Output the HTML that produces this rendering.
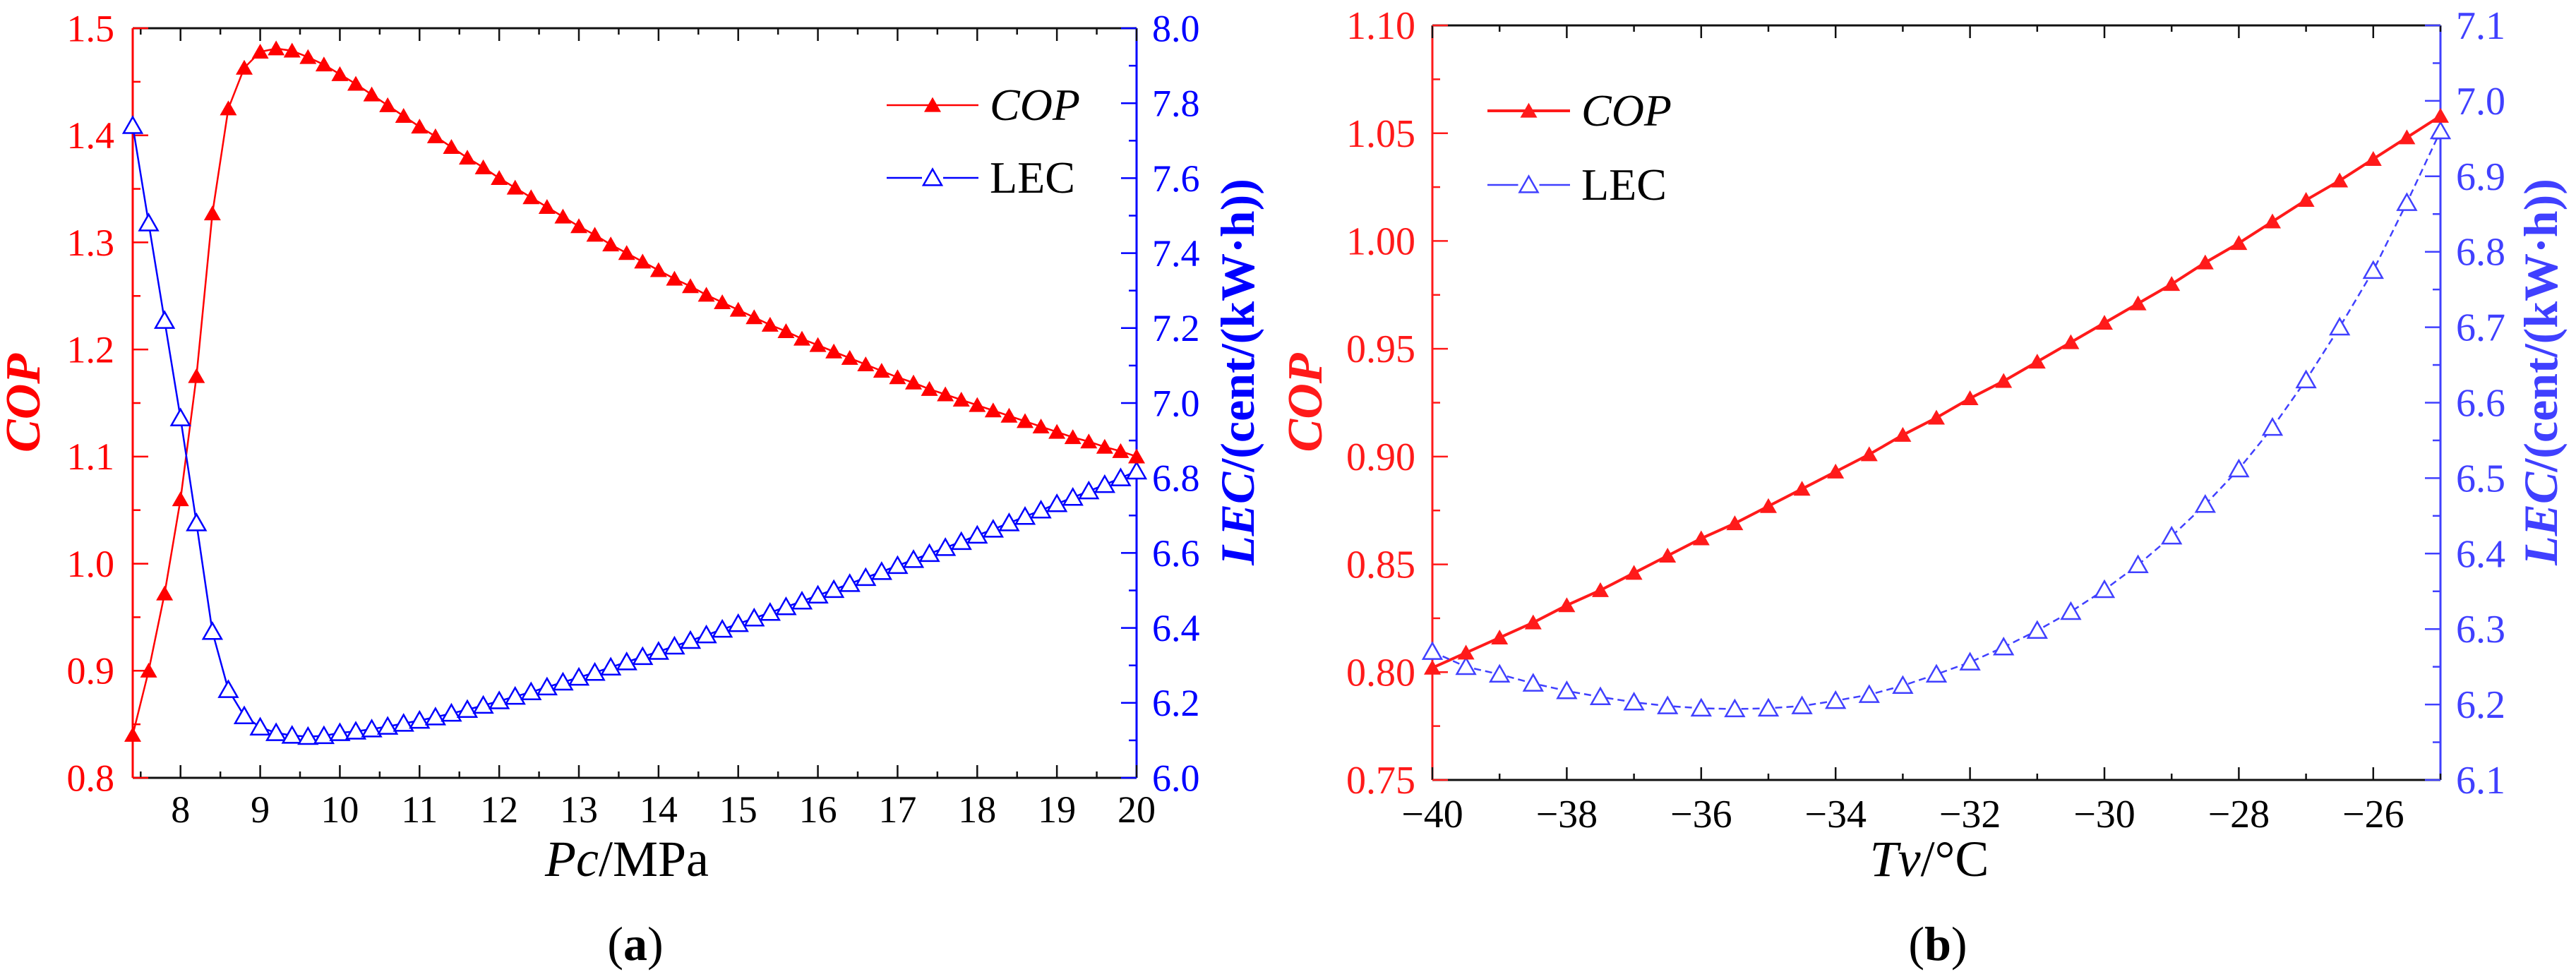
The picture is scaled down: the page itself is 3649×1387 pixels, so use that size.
<!DOCTYPE html>
<html><head><meta charset="utf-8"><style>
html,body{margin:0;padding:0;background:#fff;}
svg{display:block;}
svg text{font-family:"Liberation Serif","DejaVu Serif",serif;}
</style></head><body>
<svg id="fig" width="3649" height="1387" viewBox="0 0 3649 1387" font-family="Liberation Serif, DejaVu Serif, serif"></svg>
<script>
// ---- Chart (a) data ----
const aPc = [7.4,7.6,7.8,8.0,8.2,8.4,8.6,8.8,9.0,9.2,9.4,9.6,9.8,10.0,10.2,10.4,10.6,10.8,11.0,11.2,11.4,11.6,11.8,12.0,12.2,12.4,12.6,12.8,13.0,13.2,13.4,13.6,13.8,14.0,14.2,14.4,14.6,14.8,15.0,15.2,15.4,15.6,15.8,16.0,16.2,16.4,16.6,16.8,17.0,17.2,17.4,17.6,17.8,18.0,18.2,18.4,18.6,18.8,19.0,19.2,19.4,19.6,19.8,20.0];
const aCOP = [0.84,0.90,0.972,1.06,1.175,1.327,1.425,1.463,1.478,1.481,1.479,1.473,1.466,1.457,1.448,1.438,1.428,1.418,1.408,1.399,1.389,1.379,1.370,1.360,1.351,1.342,1.333,1.324,1.315,1.307,1.298,1.290,1.282,1.274,1.266,1.259,1.251,1.244,1.237,1.230,1.223,1.217,1.210,1.204,1.198,1.192,1.186,1.180,1.174,1.169,1.163,1.158,1.153,1.148,1.143,1.138,1.133,1.128,1.123,1.118,1.114,1.109,1.105,1.100];
const aLEC = [7.74,7.48,7.22,6.96,6.68,6.39,6.235,6.165,6.135,6.12,6.113,6.11,6.112,6.12,6.124,6.13,6.137,6.145,6.153,6.162,6.172,6.182,6.193,6.205,6.217,6.229,6.242,6.255,6.268,6.281,6.295,6.309,6.323,6.337,6.351,6.366,6.381,6.396,6.411,6.426,6.441,6.456,6.471,6.487,6.502,6.518,6.534,6.55,6.566,6.582,6.598,6.614,6.63,6.647,6.663,6.68,6.697,6.714,6.731,6.748,6.765,6.782,6.8,6.818];
const aXTicks = [8,9,10,11,12,13,14,15,16,17,18,19,20];
const aYLTicks = ["0.8","0.9","1.0","1.1","1.2","1.3","1.4","1.5"];
const aYRTicks = ["6.0","6.2","6.4","6.6","6.8","7.0","7.2","7.4","7.6","7.8","8.0"];
// ---- Chart (b) data ----
const bTv = [-40,-39.5,-39,-38.5,-38,-37.5,-37,-36.5,-36,-35.5,-35,-34.5,-34,-33.5,-33,-32.5,-32,-31.5,-31,-30.5,-30,-29.5,-29,-28.5,-28,-27.5,-27,-26.5,-26,-25.5,-25];
const bCOP = [0.802,0.809,0.816,0.823,0.831,0.838,0.846,0.854,0.862,0.869,0.877,0.885,0.893,0.901,0.910,0.918,0.927,0.935,0.944,0.953,0.962,0.971,0.980,0.990,0.999,1.009,1.019,1.028,1.038,1.048,1.058];
const bLEC = [6.27,6.25,6.24,6.228,6.218,6.21,6.203,6.198,6.195,6.194,6.195,6.198,6.205,6.213,6.225,6.24,6.256,6.276,6.298,6.323,6.352,6.385,6.423,6.465,6.512,6.567,6.63,6.70,6.775,6.865,6.96];
const bXTicks = [-40,-38,-36,-34,-32,-30,-28,-26];
const bYLTicks = ["0.75","0.80","0.85","0.90","0.95","1.00","1.05","1.10"];
const bYRTicks = ["6.1","6.2","6.3","6.4","6.5","6.6","6.7","6.8","6.9","7.0","7.1"];

const NS="http://www.w3.org/2000/svg";
const svg=document.getElementById('fig');
const FF="Liberation Serif, DejaVu Serif, serif";
function mk(tag,attrs,parent,text){const e=document.createElementNS(NS,tag);for(const k in attrs)e.setAttribute(k,attrs[k]);if(tag==='text')e.setAttribute('font-family',FF);if(text!==undefined)e.textContent=text;(parent||svg).appendChild(e);return e;}

function chart(o){
  const g=mk('g',{});
  
  
  const X=v=>o.L+(v-o.xmin)/(o.xmax-o.xmin)*(o.R-o.L);
  const YL=v=>o.B-(v-o.ylmin)/(o.ylmax-o.ylmin)*(o.B-o.T);
  const YR=v=>o.B-(v-o.yrmin)/(o.yrmax-o.yrmin)*(o.B-o.T);
  const top=mk('line',{x1:o.L,y1:o.T,x2:o.R,y2:o.T,stroke:'#111','stroke-width':3},g);
  
  const bot=mk('line',{x1:o.L,y1:o.B,x2:o.R,y2:o.B,stroke:'#111','stroke-width':3},g);
  
  const la=mk('line',{x1:o.L,y1:o.T,x2:o.L,y2:o.B,stroke:o.red,'stroke-width':3},g);
  
  const ra=mk('line',{x1:o.R,y1:o.T,x2:o.R,y2:o.B,stroke:o.blue,'stroke-width':3},g);
  
  for(let v=o.xmin0;v<=o.xmax+1e-9;v+=o.xminor){
    const major=o.xTicks.some(t=>Math.abs(t-v)<1e-6);
    const len=major?18:9;const x=X(v);
    mk('line',{x1:x,y1:o.B,x2:x,y2:o.B-len,stroke:'#111','stroke-width':2.5},g);
    mk('line',{x1:x,y1:o.T,x2:x,y2:o.T+len,stroke:'#111','stroke-width':2.5},g);
  }
  o.xTicks.forEach(t=>{const e=mk('text',{x:X(t),y:o.xLabY,'font-size':o.fs,'text-anchor':'middle',fill:'#000'},g,(t<0?'\u2212'+Math.abs(t):String(t)));
    });
  const ylStep=(o.ylmax-o.ylmin)/(o.yLTicks.length-1);
  for(let i=0;i<=2*(o.yLTicks.length-1);i++){const v=o.ylmin+i*ylStep/2;const y=YL(v);
    mk('line',{x1:o.L,y1:y,x2:o.L+(i%2?11:22),y2:y,stroke:o.red,'stroke-width':2.5},g);}
  o.yLTicks.forEach((t,i)=>{const e=mk('text',{x:o.L-o.lgap,y:YL(o.ylmin+i*ylStep)+o.fs*0.34,'font-size':o.fs,'text-anchor':'end',fill:o.red},g,t);
    });
  const yrStep=(o.yrmax-o.yrmin)/(o.yRTicks.length-1);
  for(let i=0;i<=2*(o.yRTicks.length-1);i++){const v=o.yrmin+i*yrStep/2;const y=YR(v);
    mk('line',{x1:o.R,y1:y,x2:o.R-(i%2?11:22),y2:y,stroke:o.blue,'stroke-width':2.5},g);}
  o.yRTicks.forEach((t,i)=>{const e=mk('text',{x:o.R+o.rgap,y:YR(o.yrmin+i*yrStep)+o.fs*0.34,'font-size':o.fs,'text-anchor':'start',fill:o.blue},g,t);
    });
  const cl=mk('polyline',{points:o.xs.map((x,i)=>X(x)+','+YL(o.cop[i])).join(' '),fill:'none',stroke:o.red,'stroke-width':o.copW},g);
  
  const ll=mk('polyline',{points:o.xs.map((x,i)=>X(x)+','+YR(o.lec[i])).join(' '),fill:'none',stroke:o.blue,'stroke-width':2.5,'stroke-dasharray':o.lecDash},g);
  
  const tri=(cx,cy,s)=>`${cx-s},${cy+s*0.8} ${cx+s},${cy+s*0.8} ${cx},${cy-s*0.95}`;
  o.xs.forEach((x,i)=>{const p=mk('polygon',{points:tri(X(x),YR(o.lec[i]),13),fill:'#fff',stroke:o.blue,'stroke-width':2.5},g);
    });
  o.xs.forEach((x,i)=>{const p=mk('polygon',{points:tri(X(x),YL(o.cop[i]),12),fill:o.red},g);
    });
  const lg=mk('g',{},g);
  const [lx1,lx2,ly1,ly2,tx]=o.leg;const mx=(lx1+lx2)/2;
  mk('line',{x1:lx1,y1:ly1,x2:lx2,y2:ly1,stroke:o.red,'stroke-width':o.copW},lg);
  mk('polygon',{points:tri(mx,ly1,12),fill:o.red},lg);
  mk('text',{x:tx,y:ly1+21,'font-size':64,'font-style':'italic',fill:'#000'},lg,'COP');
  mk('line',{x1:lx1,y1:ly2,x2:mx-15,y2:ly2,stroke:o.blue,'stroke-width':2.5},lg);
  mk('line',{x1:mx+15,y1:ly2,x2:lx2,y2:ly2,stroke:o.blue,'stroke-width':2.5},lg);
  mk('polygon',{points:tri(mx,ly2,13),fill:'#fff',stroke:o.blue,'stroke-width':2.5},lg);
  mk('text',{x:tx,y:ly2+21,'font-size':64,fill:'#000'},lg,'LEC');
  const yt=mk('text',{x:o.ltX,y:(o.T+o.B)/2,'font-size':70,'font-style':'italic','font-weight':'bold',fill:o.red,'text-anchor':'middle',transform:`rotate(-90 ${o.ltX} ${(o.T+o.B)/2})`},g,'COP');
  
  const rt=mk('text',{x:o.rtX,y:o.rtY,'font-size':68,'font-weight':'bold',fill:o.blue,'text-anchor':'middle',transform:`rotate(-90 ${o.rtX} ${o.rtY})`},g);
  
  mk('tspan',{'font-style':'italic'},rt,'LEC');mk('tspan',{},rt,'/(cent/(kW\u00b7h))');
  const xt=mk('text',{x:o.xtX,y:1241,'font-size':72,'text-anchor':'middle',fill:'#000'},g);
  
  mk('tspan',{'font-style':'italic'},xt,o.xt1);mk('tspan',{},xt,o.xt2);
  const cap=mk('text',{x:o.xtX+12,y:1360,'font-size':68,'text-anchor':'middle',fill:'#000'},g);
  
  mk('tspan',{},cap,'(');mk('tspan',{'font-weight':'bold'},cap,o.cap);mk('tspan',{},cap,')');
}

chart({name:'chart-a',L:188,R:1610,T:40,B:1102,xmin:7.4,xmax:20,xmin0:7.5,xminor:0.5,xTicks:aXTicks,
  ylmin:0.8,ylmax:1.5,yrmin:6.0,yrmax:8.0,yLTicks:aYLTicks,yRTicks:aYRTicks,xs:aPc,cop:aCOP,lec:aLEC,
  red:'#ff0000',blue:'#0000ff',copW:2.5,lecDash:'none',fs:54,xLabY:1165,lgap:26,rgap:22,
  leg:[1256,1386,149,252,1402],ltX:56,rtX:1776,rtY:527,xtX:888,xt1:'Pc',xt2:'/MPa',cap:'a'});
chart({name:'chart-b',L:2029,R:3457,T:36,B:1105,xmin:-40,xmax:-25,xmin0:-40,xminor:1,xTicks:bXTicks,
  ylmin:0.75,ylmax:1.10,yrmin:6.1,yrmax:7.1,yLTicks:bYLTicks,yRTicks:bYRTicks,xs:bTv,cop:bCOP,lec:bLEC,
  red:'#ff1a1a',blue:'#4040ff',copW:4,lecDash:'10,6',fs:56,xLabY:1172,lgap:24,rgap:22,
  leg:[2107,2224,157,262,2240],ltX:1872,rtX:3622,rtY:527,xtX:2733,xt1:'Tv',xt2:'/\u00b0C',cap:'b'});
</script>
</body></html>
